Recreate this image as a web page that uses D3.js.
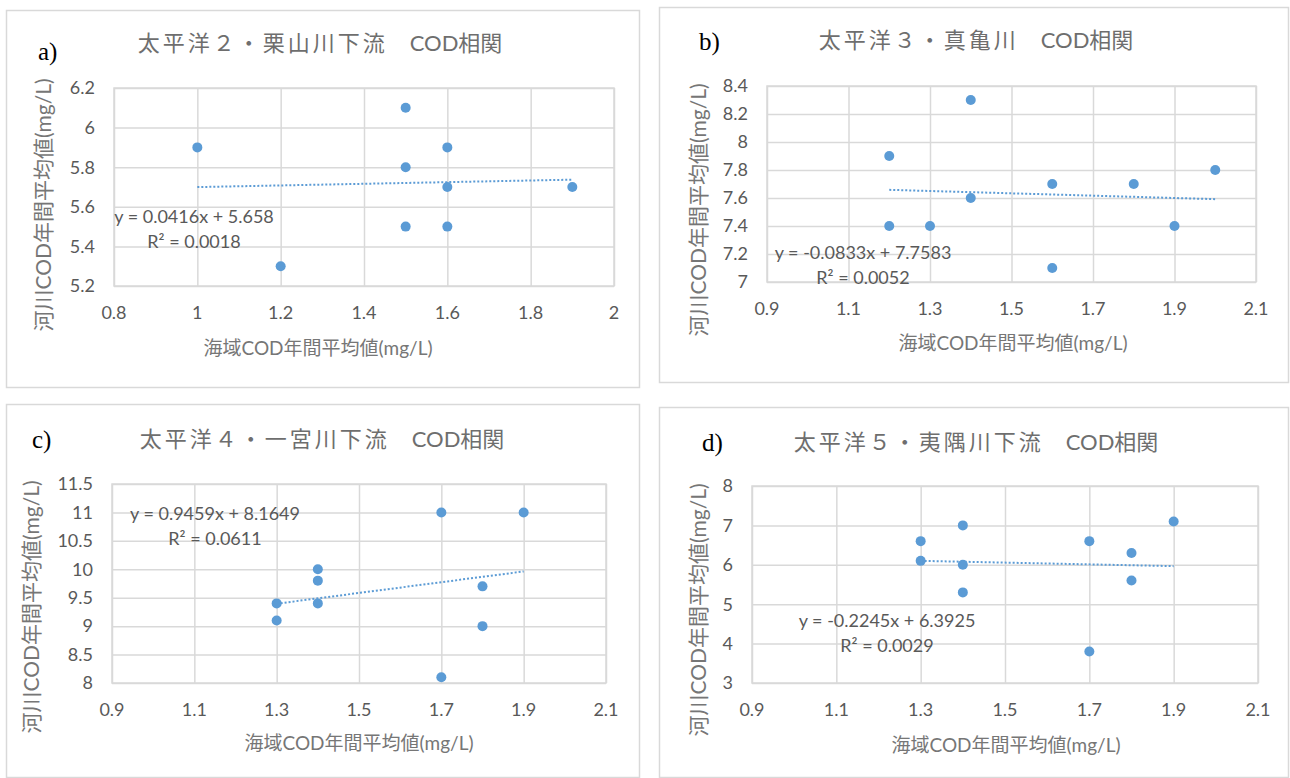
<!DOCTYPE html>
<html>
<head>
<meta charset="utf-8">
<script src="https://cdn.jsdelivr.net/npm/d3@7"></script>
<style>
  body { margin: 0; background: #fff; }
  svg text { fill: #595959; font-family: Lato, "Noto Sans CJK JP", sans-serif; }
  .grid line { stroke: #d9d9d9; stroke-width: 1.5; }
  .grid .domain { display: none; }
  .chart-title { fill: #6e6e6e; }
  .axis-title { fill: #767676; }
  .letter { font-family: "Liberation Serif", "DejaVu Serif", serif; fill: #000; }
</style>
</head>
<body>
<svg id="chart" width="1290" height="778"></svg>
<script>
// ---- data ----
const titles = [
  '太平洋２・栗山川下流　COD相関',
  '太平洋３・真亀川　COD相関',
  '太平洋４・一宮川下流　COD相関',
  '太平洋５・夷隅川下流　COD相関'
];
const letters = ['a)', 'b)', 'c)', 'd)'];
const xTitle = '海域COD年間平均値(mg/L)';
const yTitle = '河川COD年間平均値(mg/L)';

const seaA = [1.0, 1.2, 1.5, 1.5, 1.5, 1.6, 1.6, 1.6, 1.9];
const riverA = [5.9, 5.3, 6.1, 5.8, 5.5, 5.9, 5.7, 5.5, 5.7];
const seaB = [1.2, 1.2, 1.3, 1.4, 1.4, 1.6, 1.6, 1.8, 1.9, 2.0];
const riverB = [7.9, 7.4, 7.4, 8.3, 7.6, 7.7, 7.1, 7.7, 7.4, 7.8];
const seaC = [1.3, 1.3, 1.4, 1.4, 1.4, 1.7, 1.7, 1.8, 1.8, 1.9];
const riverC = [9.4, 9.1, 10.0, 9.8, 9.4, 11.0, 8.1, 9.7, 9.0, 11.0];
const seaD = [1.3, 1.3, 1.4, 1.4, 1.4, 1.7, 1.7, 1.8, 1.8, 1.9];
const riverD = [6.6, 6.1, 7.0, 6.0, 5.3, 6.6, 3.8, 6.3, 5.6, 7.1];

const slopes = [0.0416, -0.0833, 0.9459, -0.2245];
const intercepts = [5.658, 7.7583, 8.1649, 6.3925];
const equations = ['y = 0.0416x + 5.658', 'y = -0.0833x + 7.7583', 'y = 0.9459x + 8.1649', 'y = -0.2245x + 6.3925'];
const rSquared = ['R² = 0.0018', 'R² = 0.0052', 'R² = 0.0611', 'R² = 0.0029'];

const xTicksA = [0.8, 1, 1.2, 1.4, 1.6, 1.8, 2];
const xTicksBCD = [0.9, 1.1, 1.3, 1.5, 1.7, 1.9, 2.1];
const yTicksA = [5.2, 5.4, 5.6, 5.8, 6, 6.2];
const yTicksB = [7, 7.2, 7.4, 7.6, 7.8, 8, 8.2, 8.4];
const yTicksC = [8, 8.5, 9, 9.5, 10, 10.5, 11, 11.5];
const yTicksD = [3, 4, 5, 6, 7, 8];

// ---- layout (pixel positions measured on the reference) ----
const panels = [
  {xs: seaA, ys: riverA, xt: xTicksA, yt: yTicksA,
   frame: [6, 10, 640, 388], plot: [114, 88, 614, 286],
   title: [320, 43], letter: [38, 60], eq: [194, 217], xLab: [318, 348], yLab: [44, 205]},
  {xs: seaB, ys: riverB, xt: xTicksBCD, yt: yTicksB,
   frame: [659, 7, 1289, 383], plot: [767, 86, 1256, 282],
   title: [976, 40], letter: [699, 50], eq: [863, 253], xLab: [1013, 343], yLab: [699, 210]},
  {xs: seaC, ys: riverC, xt: xTicksBCD, yt: yTicksC,
   frame: [6, 404, 640, 778], plot: [112, 484, 606, 683],
   title: [322, 439], letter: [32, 448], eq: [215, 514], xLab: [359, 743], yLab: [32, 607]},
  {xs: seaD, ys: riverD, xt: xTicksBCD, yt: yTicksD,
   frame: [659, 407, 1289, 778], plot: [752, 486, 1258, 683],
   title: [976, 442], letter: [702, 451], eq: [887, 621], xLab: [1006, 745], yLab: [699, 610]}
];

const svg = d3.select('#chart');
const dotColor = '#5b9bd5';
const fmt = d => String(+d.toFixed(2));

panels.forEach((p, i) => {
  const [fx0, fy0, fx1, fy1] = p.frame;
  const [px0, py0, px1, py1] = p.plot;

  // outer chart frame
  svg.append('rect')
      .attr('x', fx0 + 0.5).attr('y', fy0 + 0.5)
      .attr('width', fx1 - fx0 - 1).attr('height', fy1 - fy0 - 1)
      .attr('fill', '#fff').attr('stroke', '#d9d9d9').attr('stroke-width', 1.5);

  const x = d3.scaleLinear().domain(d3.extent(p.xt)).range([px0, px1]);
  const y = d3.scaleLinear().domain(d3.extent(p.yt)).range([py1, py0]);

  // gridlines
  svg.append('g').attr('class', 'grid')
      .attr('transform', `translate(0,${py1})`)
      .call(d3.axisBottom(x).tickValues(p.xt).tickSize(-(py1 - py0)).tickFormat(''));
  svg.append('g').attr('class', 'grid')
      .attr('transform', `translate(${px0},0)`)
      .call(d3.axisLeft(y).tickValues(p.yt).tickSize(-(px1 - px0)).tickFormat(''));
  svg.append('rect')
      .attr('x', px0).attr('y', py0).attr('width', px1 - px0).attr('height', py1 - py0)
      .attr('fill', 'none').attr('stroke', '#d9d9d9').attr('stroke-width', 1.5);

  // tick labels
  svg.selectAll(null).data(p.xt).join('text')
      .attr('x', d => x(d)).attr('y', py1 + 33)
      .attr('text-anchor', 'middle').style('font-size', '18px')
      .text(fmt);
  svg.selectAll(null).data(p.yt).join('text')
      .attr('x', px0 - 19).attr('y', d => y(d)).attr('dy', '0.35em')
      .attr('text-anchor', 'end').style('font-size', '18px')
      .text(fmt);

  // trendline
  const xr = d3.extent(p.xs);
  svg.append('line')
      .attr('x1', x(xr[0])).attr('y1', y(slopes[i] * xr[0] + intercepts[i]))
      .attr('x2', x(xr[1])).attr('y2', y(slopes[i] * xr[1] + intercepts[i]))
      .attr('stroke', dotColor).attr('stroke-width', 2)
      .attr('stroke-dasharray', '2,2');

  // points
  svg.selectAll(null).data(p.xs.map((v, k) => [v, p.ys[k]])).join('circle')
      .attr('cx', d => x(d[0])).attr('cy', d => y(d[1]))
      .attr('r', 5).attr('fill', dotColor);

  // equation + R²
  svg.append('text')
      .attr('x', p.eq[0]).attr('y', p.eq[1]).attr('dy', '0.35em')
      .attr('text-anchor', 'middle').style('font-size', '18px')
      .text(equations[i]);
  svg.append('text')
      .attr('x', p.eq[0]).attr('y', p.eq[1] + 25).attr('dy', '0.35em')
      .attr('text-anchor', 'middle').style('font-size', '18px')
      .text(rSquared[i]);

  // chart title: the station part is loosely spaced, "COD相関" is not
  const [station, rest] = titles[i].split('　');
  const t = svg.append('text').attr('class', 'chart-title')
      .attr('x', p.title[0]).attr('y', p.title[1]).attr('dy', '0.35em')
      .attr('text-anchor', 'middle').style('font-size', '22px');
  t.append('tspan').style('letter-spacing', '3px').text(station);
  t.append('tspan').text('　' + rest);

  svg.append('text').attr('class', 'axis-title')
      .attr('x', p.xLab[0]).attr('y', p.xLab[1]).attr('dy', '0.35em')
      .attr('text-anchor', 'middle').style('font-size', '19px')
      .text(xTitle);
  svg.append('text').attr('class', 'axis-title')
      .attr('transform', `translate(${p.yLab[0]},${p.yLab[1]}) rotate(-90)`)
      .attr('dy', '0.35em')
      .attr('text-anchor', 'middle').style('font-size', '21px')
      .text(yTitle);

  svg.append('text').attr('class', 'letter')
      .attr('x', p.letter[0]).attr('y', p.letter[1])
      .style('font-size', '25px')
      .text(letters[i]);
});
</script>
</body>
</html>
